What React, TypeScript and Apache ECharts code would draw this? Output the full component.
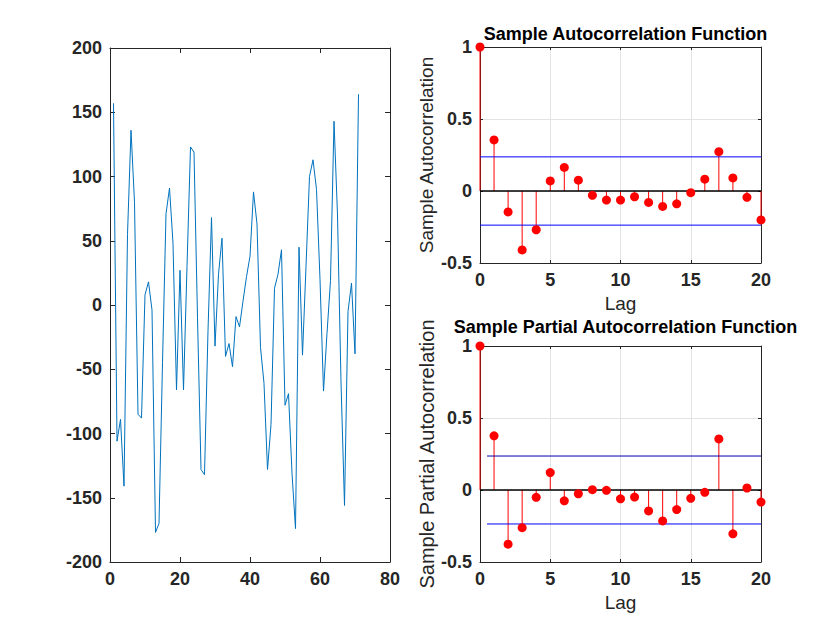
import React, { useEffect, useRef } from "react";
import * as echarts from "echarts";

const seriesValues: number[] = [
  157, -106, -89, -141, 55, 136, 80, -85, -88, 8,
  18, -4, -177, -170, -45, 71, 91, 48, -66, 27,
  -66, 30, 123, 119, -10, -128, -132, -20, 68, -32,
  24, 52, -40, -30, -48, -9, -17, 3, 22, 38,
  88, 63, -33, -61, -128, -93, 13, 24, 43, -78,
  -69, -131, -174, 45, -39, 30, 100, 113, 90, 20,
  -67, -22, 19, 143, 70, -60, -156, -5, 17, -38,
  164,
];

const lags: number[] = [0, 1, 2, 3, 4, 5, 6, 7, 8, 9, 10, 11, 12, 13, 14, 15, 16, 17, 18, 19, 20];

const acfValues: number[] = [
  1, 0.355, -0.145, -0.409, -0.269, 0.07, 0.164, 0.075, -0.03, -0.063,
  -0.063, -0.04, -0.079, -0.107, -0.089, -0.012, 0.082, 0.273, 0.091, -0.044,
  -0.201,
];

const pacfValues: number[] = [
  1, 0.376, -0.376, -0.262, -0.051, 0.121, -0.075, -0.026, 0.002, -0.002,
  -0.061, -0.049, -0.145, -0.215, -0.136, -0.058, -0.016, 0.355, -0.304, 0.014,
  -0.084,
];

const acfBound = 0.237;
const pacfBound = 0.236;

const leftXTicks = { min: 0, max: 80, interval: 20 };
const leftYTicks = { min: -200, max: 200, interval: 50 };
const lagTicks = { min: 0, max: 20, interval: 5 };
const corrTicks = { min: -0.5, max: 1, interval: 0.5 };

const FONT = "Liberation Sans, Arial, Helvetica, sans-serif";
const AXIS_COLOR = "#262626";

export default function App() {
  const ref = useRef<HTMLDivElement>(null);

  useEffect(() => {
    if (!ref.current) return;
    const chart = echarts.init(ref.current, undefined, { renderer: "svg" });

    const labelStyle = {
      color: AXIS_COLOR,
      fontFamily: FONT,
      fontSize: 18,
      fontWeight: "bold" as const,
    };

    const axisBase = (grid: number, t: any, tickLen: number) => ({
      type: "value",
      gridIndex: grid,
      min: t.min,
      max: t.max,
      interval: t.interval,
      axisLine: { show: true, onZero: false, lineStyle: { color: AXIS_COLOR, width: 1 } },
      axisTick: { show: true, inside: true, length: tickLen, lineStyle: { color: AXIS_COLOR } },
      splitLine: { show: false },
    });

    const mkMain = (grid: number, t: any, tickLen: number, position: string, extra: any = {}) => ({
      ...axisBase(grid, t, tickLen),
      position,
      axisLabel: { ...labelStyle, margin: 8 },
      ...extra,
    });
    const mkMirror = (grid: number, t: any, tickLen: number, position: string) => ({
      ...axisBase(grid, t, tickLen),
      position,
      axisLabel: { show: false },
    });

    const gridSplit = { show: true, lineStyle: { color: "#e3e3e3", width: 1 } };
    const nameStyle = (size: number) => ({ color: AXIS_COLOR, fontFamily: FONT, fontSize: size });

    const stem = (xIdx: number, yIdx: number, vals: number[]) => ({
      type: "custom",
      xAxisIndex: xIdx,
      yAxisIndex: yIdx,
      coordinateSystem: "cartesian2d",
      data: lags.map((l, i) => [l, vals[i]]),
      encode: { x: 0, y: 1 },
      renderItem: (_params: any, api: any) => {
        const x = api.value(0);
        const y = api.value(1);
        const p0 = api.coord([x, 0]);
        const p1 = api.coord([x, y]);
        return {
          type: "line",
          shape: { x1: p0[0], y1: p0[1], x2: p1[0], y2: p1[1] },
          style: { stroke: "#ff0000", lineWidth: 1 },
        };
      },
      z: 2,
    });

    const hline = (xIdx: number, yIdx: number, x0: number, x1: number, y: number, color: string, width: number, z: number) => ({
      type: "line",
      xAxisIndex: xIdx,
      yAxisIndex: yIdx,
      data: [[x0, y], [x1, y]],
      symbol: "none",
      lineStyle: { color, width },
      z,
    });

    const markers = (xIdx: number, yIdx: number, vals: number[]) => ({
      type: "scatter",
      xAxisIndex: xIdx,
      yAxisIndex: yIdx,
      data: lags.map((l, i) => [l, vals[i]]),
      symbol: "circle",
      symbolSize: 9,
      itemStyle: { color: "#ff0000", opacity: 1 },
      z: 5,
    });

    chart.setOption({
      animation: false,
      backgroundColor: "#ffffff",
      textStyle: { fontFamily: FONT },
      title: [
        {
          text: "Sample Autocorrelation Function",
          left: 620.5,
          top: 20,
          textAlign: "center",
          textStyle: { color: "#000", fontFamily: FONT, fontSize: 18, fontWeight: "bold" },
        },
        {
          text: "Sample Partial Autocorrelation Function",
          left: 620.5,
          top: 313,
          textAlign: "center",
          textStyle: { color: "#000", fontFamily: FONT, fontSize: 18, fontWeight: "bold" },
        },
      ],
      grid: [
        { left: 110, top: 48, width: 280, height: 514 },
        { left: 480, top: 47, width: 281, height: 216 },
        { left: 480, top: 346, width: 281, height: 216 },
      ],
      xAxis: [
        mkMain(0, leftXTicks, 5, "bottom"),
        mkMirror(0, leftXTicks, 5, "top"),
        mkMain(1, lagTicks, 3, "bottom", {
          splitLine: gridSplit, name: "Lag", nameLocation: "middle", nameGap: 31, nameTextStyle: nameStyle(19),
        }),
        mkMirror(1, lagTicks, 3, "top"),
        mkMain(2, lagTicks, 3, "bottom", {
          splitLine: gridSplit, name: "Lag", nameLocation: "middle", nameGap: 31, nameTextStyle: nameStyle(19),
        }),
        mkMirror(2, lagTicks, 3, "top"),
      ],
      yAxis: [
        mkMain(0, leftYTicks, 5, "left"),
        mkMirror(0, leftYTicks, 5, "right"),
        mkMain(1, corrTicks, 3, "left", {
          splitLine: gridSplit,
          name: "Sample Autocorrelation",
          nameLocation: "middle",
          nameGap: 44,
          nameTextStyle: nameStyle(19),
        }),
        mkMirror(1, corrTicks, 3, "right"),
        mkMain(2, corrTicks, 3, "left", {
          splitLine: gridSplit,
          name: "Sample Partial Autocorrelation",
          nameLocation: "middle",
          nameGap: 43,
          nameTextStyle: nameStyle(20),
        }),
        mkMirror(2, corrTicks, 3, "right"),
      ],
      series: [
        {
          type: "line",
          xAxisIndex: 0,
          yAxisIndex: 0,
          data: seriesValues.map((v, i) => [i + 1, v]),
          symbol: "none",
          lineStyle: { color: "#0072BD", width: 1 },
        },
        stem(2, 2, acfValues),
        hline(2, 2, 0, 20, 0, "#000000", 1.5, 3),
        hline(2, 2, 0, 20, acfBound, "#0000ff", 1, 3),
        hline(2, 2, 0, 20, -acfBound, "#0000ff", 1, 3),
        markers(2, 2, acfValues),
        stem(4, 4, pacfValues),
        hline(4, 4, 0, 20, 0, "#000000", 1.5, 3),
        hline(4, 4, 0.5, 20, pacfBound, "#0000b0", 1, 3),
        hline(4, 4, 0.5, 20, -pacfBound, "#0000ff", 1, 3),
        markers(4, 4, pacfValues),
      ],
    });

    return () => chart.dispose();
  }, []);

  return (
    <div
      ref={ref}
      style={{ position: "absolute", left: 0, top: 0, width: 840, height: 630 }}
    />
  );
}
